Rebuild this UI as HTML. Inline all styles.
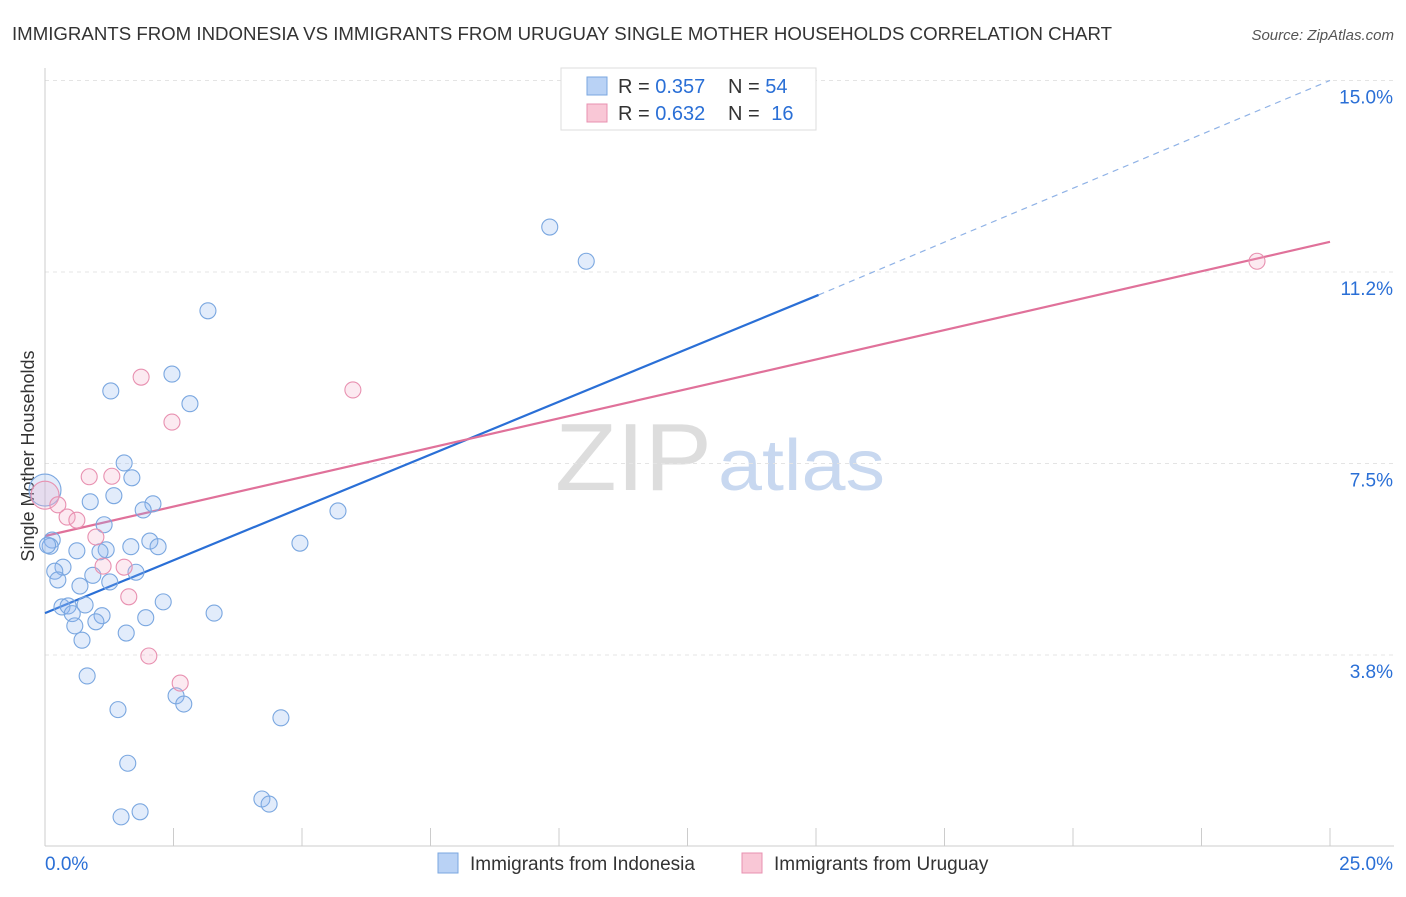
<!DOCTYPE html>
<html><head><meta charset="utf-8"><style>
body{margin:0;background:#fff;font-family:"Liberation Sans",sans-serif;}
svg text{font-family:"Liberation Sans",sans-serif;}
</style></head><body>
<svg width="1406" height="892" xmlns="http://www.w3.org/2000/svg">
<text x="12" y="40" font-size="18" fill="#333" textLength="1100" lengthAdjust="spacingAndGlyphs">IMMIGRANTS FROM INDONESIA VS IMMIGRANTS FROM URUGUAY SINGLE MOTHER HOUSEHOLDS CORRELATION CHART</text>
<text x="1394" y="40" font-size="15" fill="#555" text-anchor="end" font-style="italic">Source: ZipAtlas.com</text>
<text x="555" y="490" font-size="96" fill="#ddd" font-family="Liberation Serif" textLength="157" lengthAdjust="spacingAndGlyphs">ZIP</text>
<text x="718" y="490" font-size="72" fill="#c8d8f0" textLength="167" lengthAdjust="spacingAndGlyphs">atlas</text>
<text transform="translate(34,456) rotate(-90)" font-size="18" fill="#333" text-anchor="middle">Single Mother Households</text>
<g id="grid"></g><g id="axes"></g><g id="lines"></g><g id="pts"></g>
<g>
<rect x="561" y="68" width="255" height="62" fill="#fff" stroke="#ddd"/>
<rect x="587" y="77" width="20" height="18" fill="#b9d2f5" stroke="#7aa7e0"/>
<rect x="587" y="104" width="20" height="18" fill="#f9c7d6" stroke="#e890b0"/>
<text x="618" y="93" font-size="20" fill="#333">R = <tspan fill="#2a6fd6">0.357</tspan></text>
<text x="728" y="93" font-size="20" fill="#333">N = <tspan fill="#2a6fd6">54</tspan></text>
<text x="618" y="120" font-size="20" fill="#333">R = <tspan fill="#2a6fd6">0.632</tspan></text>
<text x="728" y="120" font-size="20" fill="#333">N = <tspan fill="#2a6fd6" dx="6">16</tspan></text>
</g>
<g>
<rect x="438" y="853" width="20" height="20" fill="#b9d2f5" stroke="#7aa7e0"/>
<text x="470" y="870" font-size="19" fill="#333">Immigrants from Indonesia</text>
<rect x="742" y="853" width="20" height="20" fill="#f9c7d6" stroke="#e890b0"/>
<text x="774" y="870" font-size="19" fill="#333">Immigrants from Uruguay</text>
</g>
</svg>
<script>
const yTicks=[3.75,7.5,11.25,15];
const yTickLabels=["3.8%","7.5%","11.2%","15.0%"];
const xTickVals=[0,2.5,5,7.5,10,12.5,15,17.5,20,22.5,25];
const blueX=[9.82,10.53,3.17,1.28,2.47,2.82,1.54,1.69,1.34,0.88,2.10,1.91,1.15,5.70,0.14,0.10,2.04,2.20,1.67,1.19,0.62,1.07,4.96,0.35,0.19,0.93,1.77,0.25,0.68,1.26,2.30,0.33,0.45,0.78,0.53,1.11,1.96,3.29,0.58,0.99,1.58,0.72,0.82,2.55,2.70,1.42,4.59,1.61,4.22,4.36,1.85,1.48,0.0,0.05];
const blueY=[12.13,11.46,10.49,8.92,9.25,8.67,7.51,7.22,6.87,6.75,6.71,6.59,6.30,6.57,6.00,5.88,5.98,5.87,5.87,5.81,5.79,5.77,5.94,5.47,5.39,5.31,5.37,5.22,5.10,5.18,4.79,4.69,4.71,4.73,4.56,4.52,4.48,4.57,4.32,4.40,4.18,4.04,3.34,2.95,2.79,2.68,2.52,1.63,0.93,0.83,0.68,0.58,6.98,5.9];
const pinkX=[23.58,1.87,5.99,2.47,0.86,1.30,0,0.25,0.43,0.62,0.99,1.54,1.13,1.63,2.02,2.63];
const pinkY=[11.46,9.19,8.94,8.31,7.24,7.25,6.88,6.69,6.45,6.39,6.06,5.47,5.49,4.89,3.73,3.20];
const blueLine=[4.57,10.8,15.0];
const pinkLine=[6.08,11.84];
const NS="http://www.w3.org/2000/svg";
const sx=v=>45+v*51.4, sy=v=>846.5-v*51.07;
function mk(t,a,p){const e=document.createElementNS(NS,t);for(const k in a)e.setAttribute(k,a[k]);p.appendChild(e);return e;}
const grid=document.getElementById('grid'),axes=document.getElementById('axes'),lines=document.getElementById('lines'),pts=document.getElementById('pts');
yTicks.forEach((t,i)=>{
 const l=mk('line',{x1:45,x2:1394,y1:sy(t),y2:sy(t),stroke:'#e4e4e4','stroke-dasharray':'4,4'},grid);
 
 
 const tx=mk('text',{x:1393,y:sy(t)+23,'font-size':19,fill:'#2a6fd6','text-anchor':'end'},axes);tx.textContent=yTickLabels[i];
 
 
});
const ax=mk('line',{x1:45,x2:45,y1:68,y2:846,stroke:'#ccc'},axes);


const bx=mk('line',{x1:45,x2:1394,y1:846,y2:846,stroke:'#ccc'},axes);


xTickVals.forEach(v=>{const t=mk('line',{x1:sx(v),x2:sx(v),y1:828,y2:846,stroke:'#ccc'},axes);
 
 });
let t0=mk('text',{x:45,y:870,'font-size':19,fill:'#2a6fd6'},axes);t0.textContent='0.0%';


let t1=mk('text',{x:1393,y:870,'font-size':19,fill:'#2a6fd6','text-anchor':'end'},axes);t1.textContent='25.0%';


function dot(x,y,r,f,s,n){const c=mk('circle',{cx:sx(x),cy:sy(y),r:r,fill:f,stroke:s,'stroke-width':1.1},pts);
 
 }
blueX.forEach((x,i)=>dot(x,blueY[i],i==52?16:8,'rgba(140,180,240,0.25)','#7aa7e0','indonesia-point'));
pinkX.forEach((x,i)=>dot(x,pinkY[i],i==6?14:8,'rgba(245,170,200,0.25)','#e890b0','uruguay-point'));
let l1=mk('line',{x1:sx(0),y1:sy(blueLine[0]),x2:sx(15.05),y2:sy(blueLine[1]),stroke:'#2a6fd6','stroke-width':2.2},lines);


let l2=mk('line',{x1:sx(15.05),y1:sy(blueLine[1]),x2:sx(25),y2:sy(blueLine[2]),stroke:'#8fb2e6','stroke-width':1.2,'stroke-dasharray':'6,5'},lines);


let l3=mk('line',{x1:sx(0),y1:sy(pinkLine[0]),x2:sx(25),y2:sy(pinkLine[1]),stroke:'#e0719a','stroke-width':2.2},lines);


</script>
</body></html>
